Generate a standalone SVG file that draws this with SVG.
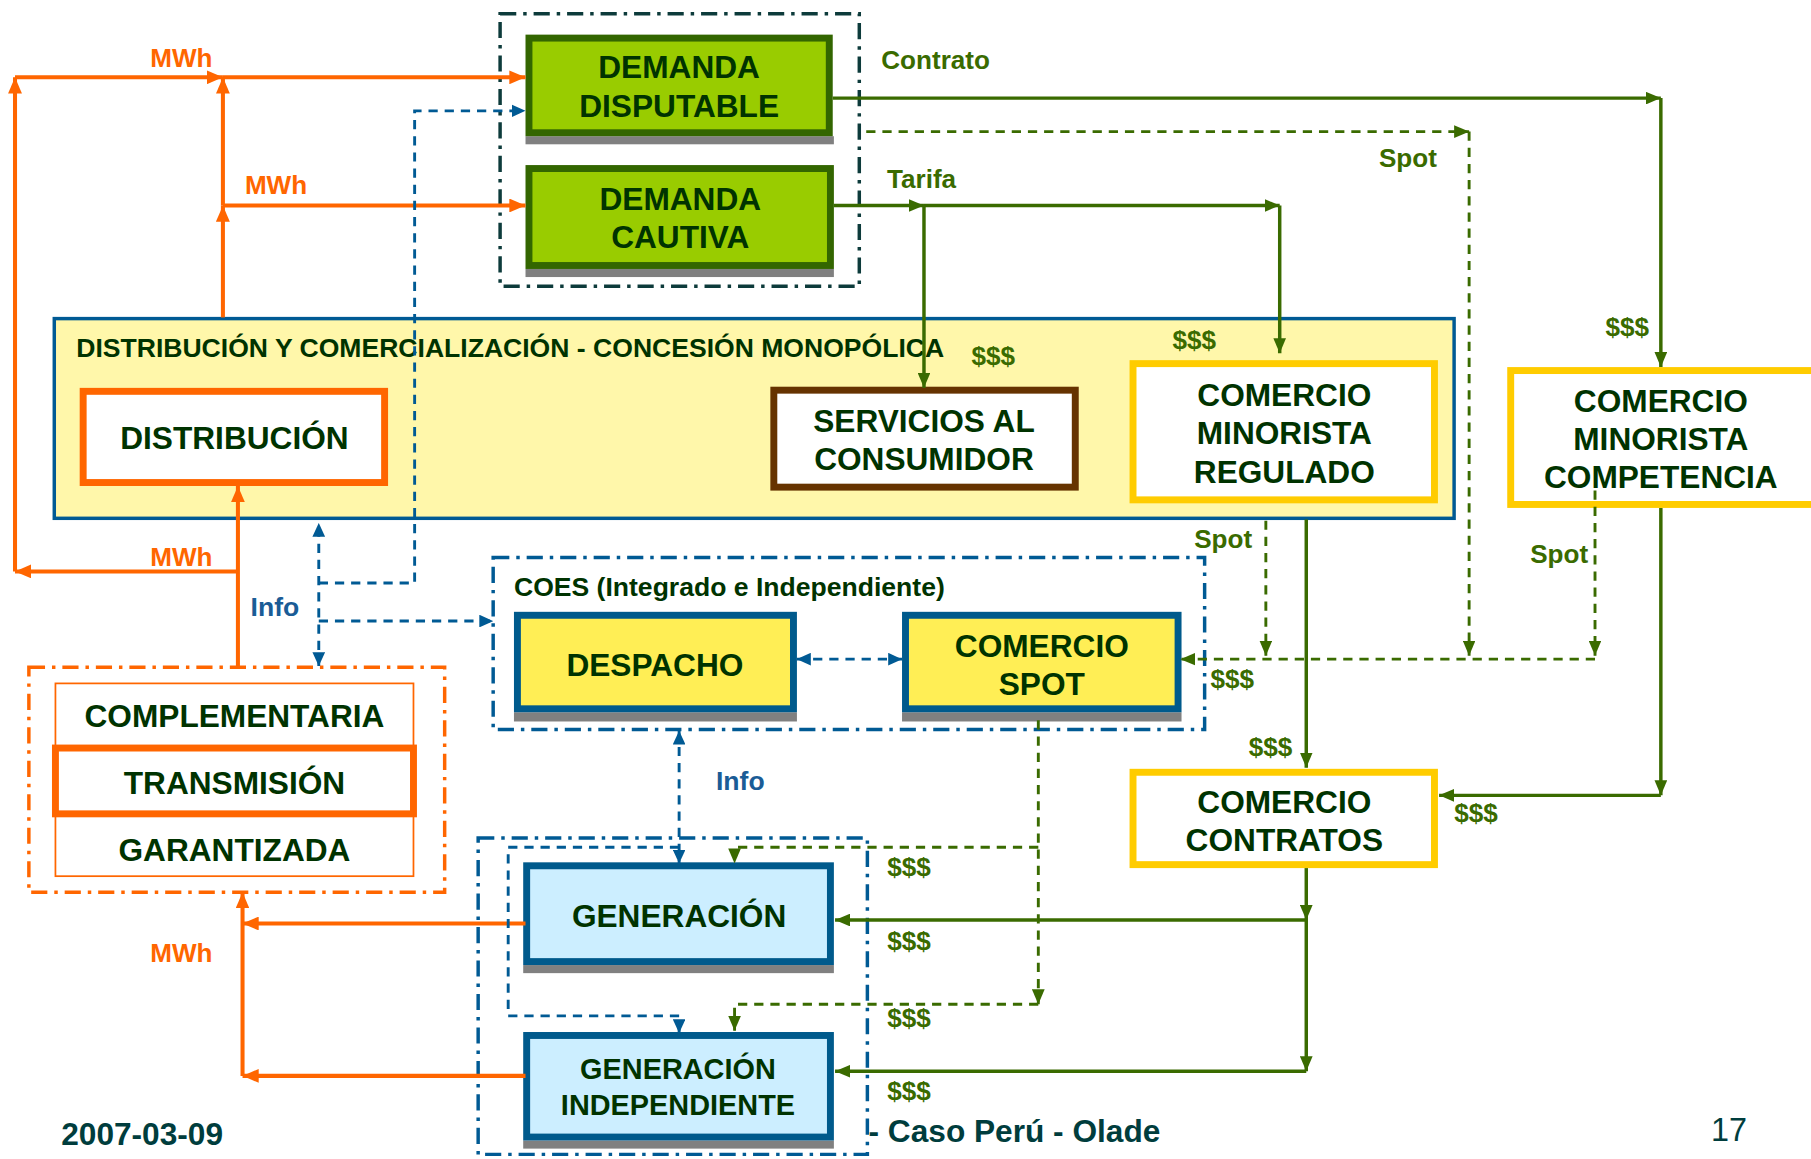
<svg xmlns="http://www.w3.org/2000/svg" width="1811" height="1159" viewBox="0 0 1811 1159">
<style>
text{font-family:"Liberation Sans",Arial,sans-serif;font-weight:bold}
.t{fill:#003300;font-size:27.4px;text-anchor:middle}
.t25{fill:#003300;font-size:25px;text-anchor:middle}
.ttl{fill:#003300;font-size:23px}
.lg{fill:#3a6b00;font-size:22.6px}
.lo{fill:#ff6600;font-size:22.6px;text-anchor:middle}
.lb{fill:#1a5c96;font-size:23px}
.ft{fill:#003d3d;font-size:27.4px}
.grp{fill:none;stroke-width:3;stroke-dasharray:14 6 3 6}
.shadow{fill:#808080}
.o{fill:none;stroke:#ff6600;stroke-width:3.5}
.b{fill:none;stroke:#005a94;stroke-width:2.5;stroke-dasharray:8 6}
.g{fill:none;stroke:#3a6b00;stroke-width:3}
.gd{fill:none;stroke:#3a6b00;stroke-width:2.5;stroke-dasharray:8 6}
</style>
<defs>
<marker id="ao" markerUnits="userSpaceOnUse" markerWidth="14" markerHeight="12" refX="14" refY="6" orient="auto-start-reverse"><path d="M0,0 L14,6 L0,12 z" fill="#ff6600"/></marker>
<marker id="ab" markerUnits="userSpaceOnUse" markerWidth="12" markerHeight="11" refX="12" refY="5.5" orient="auto-start-reverse"><path d="M0,0 L12,5.5 L0,11 z" fill="#005a94"/></marker>
<marker id="ag" markerUnits="userSpaceOnUse" markerWidth="13" markerHeight="11" refX="13" refY="5.5" orient="auto-start-reverse"><path d="M0,0 L13,5.5 L0,11 z" fill="#3a6b00"/></marker>
</defs>
<rect width="1811" height="1159" fill="#ffffff"/>
<g transform="scale(1.15497,1.15438)">

<g id="grupo-demanda"><rect x="433" y="12" width="311" height="236" class="grp" stroke="#0d3b3b"/></g>

<g id="demanda-disputable">
<rect x="455" y="118" width="267" height="7" class="shadow"/>
<rect x="458" y="33" width="260" height="82" fill="#99cc00" stroke="#336600" stroke-width="6"/>
<text class="t" x="588" y="68">DEMANDA</text><text class="t" x="588" y="101">DISPUTABLE</text>
</g>
<g id="demanda-cautiva">
<rect x="455" y="233" width="267" height="7" class="shadow"/>
<rect x="458" y="146" width="261" height="84" fill="#99cc00" stroke="#336600" stroke-width="6"/>
<text class="t" x="589" y="182">DEMANDA</text><text class="t" x="589" y="215">CAUTIVA</text>
</g>

<g id="distribucion-comercializacion">
<rect x="47" y="276" width="1212" height="173" fill="#fff7aa" stroke="#005a94" stroke-width="3"/>
<text class="ttl" x="66" y="309">DISTRIBUCIÓN Y COMERCIALIZACIÓN - CONCESIÓN MONOPÓLICA</text>
</g>
<g id="distribucion">
<rect x="72" y="339" width="261" height="79" fill="#ffffff" stroke="#ff6600" stroke-width="6"/>
<text class="t" x="203" y="389">DISTRIBUCIÓN</text>
</g>
<g id="servicios">
<rect x="670" y="338" width="261" height="84" fill="#ffffff" stroke="#663300" stroke-width="6"/>
<text class="t" x="800" y="374">SERVICIOS AL</text><text class="t" x="800" y="407">CONSUMIDOR</text>
</g>
<g id="minorista-regulado">
<rect x="981" y="315" width="261" height="118" fill="#ffffff" stroke="#ffcc00" stroke-width="6"/>
<text class="t" x="1112" y="352">COMERCIO</text><text class="t" x="1112" y="385">MINORISTA</text><text class="t" x="1112" y="418">REGULADO</text>
</g>
<g id="minorista-competencia">
<rect x="1308" y="321" width="270" height="116" fill="#ffffff" stroke="#ffcc00" stroke-width="6"/>
<text class="t" x="1438" y="357">COMERCIO</text><text class="t" x="1438" y="390">MINORISTA</text><text class="t" x="1438" y="423">COMPETENCIA</text>
</g>

<g id="coes">
<rect x="427" y="483" width="616" height="149" fill="#fff7aa" stroke="#005a94" class="grp"/>
<text class="ttl" x="445" y="516">COES (Integrado e Independiente)</text>
</g>
<g id="despacho">
<rect x="445" y="617" width="245" height="8" class="shadow"/>
<rect x="448" y="533" width="239" height="81" fill="#ffee55" stroke="#005a8c" stroke-width="6"/>
<text class="t" x="567" y="586">DESPACHO</text>
</g>
<g id="comercio-spot">
<rect x="781" y="617" width="242" height="8" class="shadow"/>
<rect x="784" y="533" width="236" height="81" fill="#ffee55" stroke="#005a8c" stroke-width="6"/>
<text class="t" x="902" y="569">COMERCIO</text><text class="t" x="902" y="602">SPOT</text>
</g>

<g id="transmision-grupo">
<rect x="25" y="578" width="360" height="195" class="grp" stroke="#ff6600"/>
<rect x="48" y="592" width="310" height="55" fill="#ffffff" stroke="#ff6600" stroke-width="1.5"/>
<rect x="48" y="706" width="310" height="53" fill="#ffffff" stroke="#ff6600" stroke-width="1.5"/>
<rect x="48" y="648" width="310" height="57" fill="#ffffff" stroke="#ff6600" stroke-width="6"/>
<text class="t" x="203" y="630">COMPLEMENTARIA</text>
<text class="t" x="203" y="688">TRANSMISIÓN</text>
<text class="t" x="203" y="746">GARANTIZADA</text>
</g>

<g id="comercio-contratos">
<rect x="981" y="669" width="261" height="80" fill="#ffffff" stroke="#ffcc00" stroke-width="6"/>
<text class="t" x="1112" y="704">COMERCIO</text><text class="t" x="1112" y="737">CONTRATOS</text>
</g>

<g id="grupo-generacion"><rect x="414" y="726" width="337" height="274" class="grp" stroke="#005a94"/></g>
<g id="generacion">
<rect x="453" y="836" width="269" height="7" class="shadow"/>
<rect x="456" y="750" width="263" height="83" fill="#cceeff" stroke="#005a8c" stroke-width="6"/>
<text class="t" x="588" y="803">GENERACIÓN</text>
</g>
<g id="generacion-independiente">
<rect x="453" y="988" width="269" height="7" class="shadow"/>
<rect x="456" y="897" width="263" height="88" fill="#cceeff" stroke="#005a8c" stroke-width="6"/>
<text class="t25" x="587" y="935">GENERACIÓN</text><text class="t25" x="587" y="966">INDEPENDIENTE</text>
</g>

<g id="connectors">
<path class="o" d="M13,495 V67" marker-end="url(#ao)"/>
<path class="o" d="M13,67 H193" marker-end="url(#ao)"/>
<path class="o" d="M193,67 H455" marker-end="url(#ao)"/>
<path class="o" d="M193,275 V178" marker-end="url(#ao)"/>
<path class="o" d="M193,178 V67" marker-end="url(#ao)"/>
<path class="o" d="M193,178 H455" marker-end="url(#ao)"/>
<path class="o" d="M206,578 V421" marker-end="url(#ao)"/>
<path class="o" d="M206,495 H13" marker-end="url(#ao)"/>
<path class="o" d="M455,800 H210" marker-end="url(#ao)"/>
<path class="o" d="M455,932 H210" marker-end="url(#ao)"/>
<path class="o" d="M210,932 V773" marker-end="url(#ao)"/>

<path class="b" d="M276,505 H359 V96 H455" marker-end="url(#ab)"/>
<path class="b" d="M276,538 H427" marker-end="url(#ab)"/>
<path class="b" d="M276,577 V453" marker-start="url(#ab)" marker-end="url(#ab)"/>
<path class="b" d="M690,571 H781" marker-start="url(#ab)" marker-end="url(#ab)"/>
<path class="b" d="M588,633 V748" marker-start="url(#ab)" marker-end="url(#ab)"/>
<path class="b" d="M588,734 H440 V880 H588 V895" marker-end="url(#ab)"/>

<path class="g" d="M721,85 H1438" marker-end="url(#ag)"/>
<path class="g" d="M1438,85 V318" marker-end="url(#ag)"/>
<path class="g" d="M722,178 H800" marker-end="url(#ag)"/>
<path class="g" d="M800,178 H1108" marker-end="url(#ag)"/>
<path class="g" d="M800,178 V336" marker-end="url(#ag)"/>
<path class="g" d="M1108,178 V306" marker-end="url(#ag)"/>
<path class="g" d="M1131,450 V665" marker-end="url(#ag)"/>
<path class="g" d="M1438,440 V689" marker-end="url(#ag)"/>
<path class="g" d="M1438,689 H1246" marker-end="url(#ag)"/>
<path class="g" d="M1131,752 V797" marker-end="url(#ag)"/>
<path class="g" d="M1131,797 V928" marker-end="url(#ag)"/>
<path class="g" d="M1131,797 H723" marker-end="url(#ag)"/>
<path class="g" d="M1131,928 H723" marker-end="url(#ag)"/>

<path class="gd" d="M750,114 H1272" marker-end="url(#ag)"/>
<path class="gd" d="M1272,114 V568" marker-end="url(#ag)"/>
<path class="gd" d="M1096,451 V568" marker-end="url(#ag)"/>
<path class="gd" d="M1381,425 V568" marker-end="url(#ag)"/>
<path class="gd" d="M1381,571 H1022" marker-end="url(#ag)"/>
<path class="gd" d="M899,624 V870" marker-end="url(#ag)"/>
<path class="gd" d="M899,734 H636 V748" marker-end="url(#ag)"/>
<path class="gd" d="M899,870 H636 V893" marker-end="url(#ag)"/>
</g>

<g id="labels">
<text class="lo" x="157" y="58">MWh</text>
<text class="lo" x="239" y="168">MWh</text>
<text class="lo" x="157" y="490">MWh</text>
<text class="lo" x="157" y="833">MWh</text>
<text class="lg" x="763" y="60">Contrato</text>
<text class="lg" x="768" y="163">Tarifa</text>
<text class="lg" x="1219" y="145" text-anchor="middle">Spot</text>
<text class="lg" x="860" y="316" text-anchor="middle">$$$</text>
<text class="lg" x="1034" y="302" text-anchor="middle">$$$</text>
<text class="lg" x="1409" y="291" text-anchor="middle">$$$</text>
<text class="lg" x="1059" y="475" text-anchor="middle">Spot</text>
<text class="lg" x="1350" y="488" text-anchor="middle">Spot</text>
<text class="lg" x="1067" y="596" text-anchor="middle">$$$</text>
<text class="lg" x="1100" y="655" text-anchor="middle">$$$</text>
<text class="lg" x="1278" y="712" text-anchor="middle">$$$</text>
<text class="lg" x="787" y="759" text-anchor="middle">$$$</text>
<text class="lg" x="787" y="823" text-anchor="middle">$$$</text>
<text class="lg" x="787" y="890" text-anchor="middle">$$$</text>
<text class="lg" x="787" y="953" text-anchor="middle">$$$</text>
<text class="lb" x="238" y="534" text-anchor="middle">Info</text>
<text class="lb" x="641" y="684" text-anchor="middle">Info</text>
<text class="ft" x="53" y="992">2007-03-09</text>
<text class="ft" x="752" y="989">- Caso Perú - Olade</text>
<text x="1497" y="988" text-anchor="middle" style="font-weight:normal;font-size:28px;fill:#003d3d">17</text>
</g>
</g>
</svg>
